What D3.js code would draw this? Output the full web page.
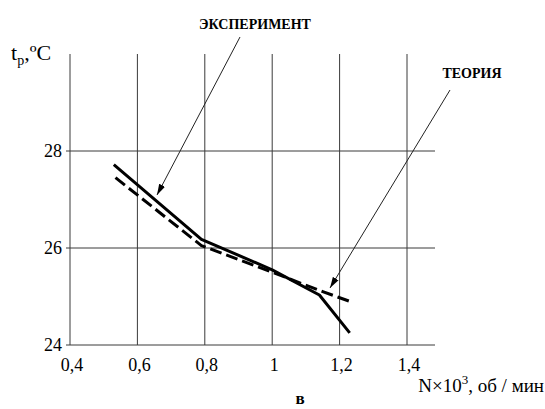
<!DOCTYPE html>
<html lang="ru">
<head>
<meta charset="UTF-8">
<title>t_p vs N</title>
<script src="https://cdn.jsdelivr.net/npm/d3@7"></script>
<style>
	*{ margin:0; box-sizing:border-box; }
	html,body{ width:545px; height:409px; overflow:hidden; background:#fff; }
	.grid line{ stroke:#3a3a3a; stroke-width:1; }
	.curve{ fill:none; stroke:#000; stroke-width:3; stroke-linejoin:round; }
	.lead{ stroke:#222; stroke-width:1; fill:none; }
</style>
</head>
<body>
<svg id="svg" width="545" height="409" font-family="'Liberation Serif', 'DejaVu Serif', serif"></svg>
<script>
// data
var xTicks = [0.4, 0.6, 0.8, 1, 1.2, 1.4];
var xTickLabels = ["0,4", "0,6", "0,8", "1", "1,2", "1,4"];
var yTicks = [24, 26, 28];
var experN = [0.53, 0.79, 1.0, 1.14, 1.23];
var experT = [27.72, 26.18, 25.55, 25.03, 24.25];
var theoryN = [0.535, 0.79, 1.0, 1.15, 1.23];
var theoryT = [27.45, 26.05, 25.5, 25.1, 24.9];

var svg = d3.select("#svg");
var x = d3.scaleLinear().domain([0.4, 1.4]).range([70, 407]);
var y = d3.scaleLinear().domain([24, 30]).range([345, 54]);
var xEnd = x.invert(435);

var grid = svg.append("g").attr("class", "grid");
grid.selectAll(".v").data(xTicks).enter().append("line")
	.attr("x1", function(d){ return x(d); }).attr("x2", function(d){ return x(d); })
	.attr("y1", y(30)).attr("y2", y(24));
grid.selectAll(".h").data(yTicks).enter().append("line")
	.attr("x1", x(0.4) - 4).attr("x2", x(xEnd))
	.attr("y1", function(d){ return y(d); }).attr("y2", function(d){ return y(d); });

svg.append("g").selectAll("text").data(xTicks).enter().append("text")
	.attr("x", function(d){ return x(d) + 2; })
	.attr("y", 371)
	.attr("text-anchor", "middle")
	.attr("font-size", 18)
	.text(function(d, i){ return xTickLabels[i]; });

svg.append("g").selectAll("text").data(yTicks).enter().append("text")
	.attr("x", 62)
	.attr("y", function(d){ return y(d) + 6; })
	.attr("text-anchor", "end")
	.attr("font-size", 18)
	.text(function(d){ return d; });

var line = d3.line()
	.x(function(d){ return x(d[0]); })
	.y(function(d){ return y(d[1]); });

svg.append("path").attr("class", "curve")
	.attr("d", line(experN.map(function(n, i){ return [n, experT[i]]; })));
svg.append("path").attr("class", "curve")
	.attr("stroke-dasharray", "12,5")
	.attr("d", line(theoryN.map(function(n, i){ return [n, theoryT[i]]; })));

// arrow heads
svg.append("defs").append("marker")
	.attr("id", "arr")
	.attr("viewBox", "0 0 10 6")
	.attr("refX", 10).attr("refY", 3)
	.attr("markerWidth", 11).attr("markerHeight", 7)
	.attr("markerUnits", "userSpaceOnUse")
	.attr("orient", "auto")
	.append("path").attr("d", "M0,0L10,3L0,6Z").attr("fill", "#000");

svg.append("line").attr("class", "lead")
	.attr("x1", 240).attr("y1", 37).attr("x2", 157).attr("y2", 195)
	.attr("marker-end", "url(#arr)");
svg.append("line").attr("class", "lead")
	.attr("x1", 450).attr("y1", 90).attr("x2", 330).attr("y2", 288)
	.attr("marker-end", "url(#arr)");

svg.append("text")
	.attr("x", 255).attr("y", 29).attr("text-anchor", "middle")
	.attr("font-size", 14).attr("font-weight", "bold")
	.text("ЭКСПЕРИМЕНТ");
svg.append("text")
	.attr("x", 472).attr("y", 78).attr("text-anchor", "middle")
	.attr("font-size", 14).attr("font-weight", "bold")
	.text("ТЕОРИЯ");

// axis titles
var yt = svg.append("text").attr("x", 11).attr("y", 60).attr("font-size", 22);
yt.append("tspan").text("t");
yt.append("tspan").attr("font-size", 14).attr("dy", 5).text("р");
yt.append("tspan").attr("dy", -5).text(",ºC");

var xt = svg.append("text").attr("x", 544).attr("y", 392)
	.attr("text-anchor", "end").attr("font-size", 19);
xt.append("tspan").text("N\u00d710");
xt.append("tspan").attr("font-size", 13).attr("dy", -8).text("3");
xt.append("tspan").attr("dy", 8).text(", об / мин");

svg.append("text").attr("x", 300).attr("y", 404)
	.attr("text-anchor", "middle").attr("font-size", 17).attr("font-weight", "bold")
	.text("в");
</script>
</body>
</html>
